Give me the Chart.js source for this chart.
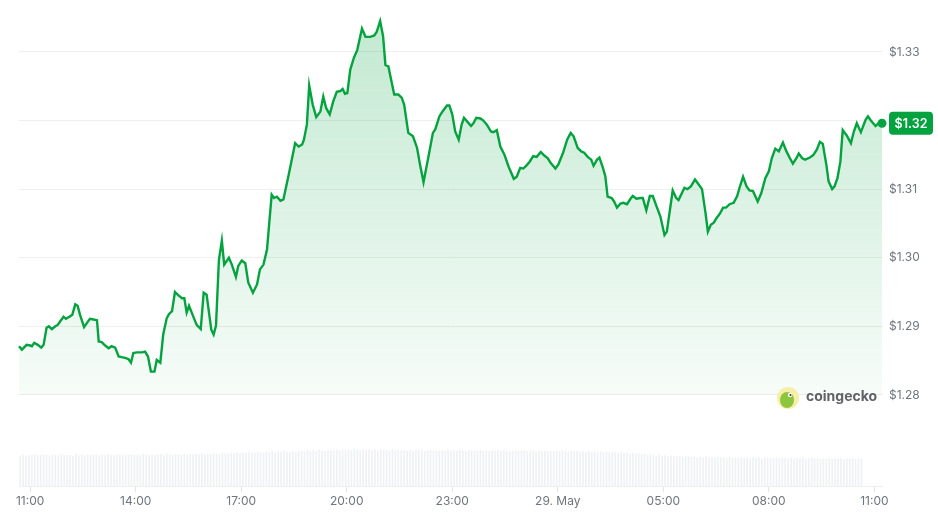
<!DOCTYPE html>
<html>
<head>
<meta charset="utf-8">
<script src="https://cdn.jsdelivr.net/npm/chart.js@4.4.1/dist/chart.umd.min.js"></script>
<style>
  html, body { margin: 0; padding: 0; background: #fff; }
  #wrap { width: 938px; height: 513px; position: relative; }
</style>
</head>
<body>
<div id="wrap"><canvas id="priceChart"></canvas></div>
<script>
// minutes after 28 May 11:00
const priceTimes = [-19,-14,-6,0,3,7,13,19,23,28,32,37,43,47,51,57,61,67,72,77,81,85,92,97,102,108,114,117,122,128,134,139,145,151,156,162,168,172,176,182,191,196,201,206,212,216,222,227,233,237,242,247,253,259,263,267,271,277,284,291,296,301,309,313,317,322,327,331,339,344,351,355,361,367,372,380,387,392,398,404,412,416,421,427,432,441,452,458,464,467,472,476,482,488,495,500,505,511,517,523,529,533,537,541,546,552,558,566,572,580,587,591,597,602,606,611,621,628,634,638,645,653,660,665,671,680,687,691,698,704,711,715,720,725,731,736,740,746,752,756,761,768,773,779,786,790,796,802,809,816,825,830,836,841,846,852,858,864,871,877,883,888,896,901,909,916,922,927,934,940,945,951,957,961,967,971,977,981,985,992,996,1001,1007,1012,1018,1024,1028,1034,1041,1045,1051,1057,1062,1068,1075,1082,1086,1096,1102,1106,1116,1121,1127,1134,1140,1146,1152,1156,1161,1166,1171,1177,1182,1187,1193,1200,1206,1210,1216,1222,1227,1233,1241,1247,1254,1260,1265,1271,1277,1284,1290,1296,1301,1307,1311,1317,1322,1330,1336,1342,1347,1352,1358,1362,1368,1372,1377,1382,1386,1393,1400,1405,1410,1417,1425,1429,1434,1442,1447,1453];

const prices = [1.2871,1.2866,1.2873,1.2872,1.2871,1.2876,1.2873,1.2869,1.2873,1.2898,1.2900,1.2896,1.2900,1.2902,1.2907,1.2914,1.2911,1.2914,1.2917,1.2932,1.2930,1.2917,1.2899,1.2905,1.2911,1.2910,1.2909,1.2878,1.2877,1.2872,1.2868,1.2871,1.2869,1.2856,1.2855,1.2854,1.2852,1.2847,1.2861,1.2862,1.2862,1.2863,1.2856,1.2834,1.2834,1.2851,1.2847,1.2888,1.2912,1.2918,1.2922,1.2950,1.2945,1.2941,1.2941,1.2920,1.2930,1.2917,1.2902,1.2896,1.2949,1.2946,1.2895,1.2888,1.2901,1.2997,1.3025,1.2990,1.3000,1.2990,1.2972,1.2988,1.2996,1.2992,1.2964,1.2949,1.2961,1.2983,1.2990,1.3012,1.3092,1.3087,1.3089,1.3083,1.3085,1.3121,1.3167,1.3162,1.3165,1.3172,1.3194,1.3251,1.3223,1.3205,1.3213,1.3235,1.3218,1.3209,1.3228,1.3242,1.3243,1.3246,1.3239,1.3240,1.3274,1.3291,1.3303,1.3334,1.3322,1.3322,1.3324,1.3329,1.3345,1.3323,1.3281,1.3279,1.3238,1.3238,1.3233,1.3223,1.3182,1.3177,1.3160,1.3136,1.3110,1.3150,1.3182,1.3187,1.3206,1.3214,1.3222,1.3222,1.3209,1.3184,1.3172,1.3194,1.3204,1.3198,1.3192,1.3196,1.3204,1.3203,1.3200,1.3194,1.3184,1.3183,1.3186,1.3162,1.3150,1.3133,1.3115,1.3118,1.3131,1.3130,1.3134,1.3140,1.3148,1.3147,1.3154,1.3149,1.3145,1.3138,1.3130,1.3136,1.3153,1.3172,1.3182,1.3177,1.3160,1.3155,1.3153,1.3147,1.3143,1.3134,1.3143,1.3146,1.3131,1.3119,1.3089,1.3087,1.3082,1.3073,1.3079,1.3080,1.3078,1.3086,1.3090,1.3086,1.3087,1.3087,1.3069,1.3090,1.3090,1.3076,1.3060,1.3033,1.3038,1.3098,1.3087,1.3084,1.3102,1.3100,1.3104,1.3114,1.3107,1.3100,1.3065,1.3038,1.3048,1.3051,1.3058,1.3065,1.3073,1.3073,1.3078,1.3080,1.3090,1.3102,1.3118,1.3104,1.3098,1.3097,1.3082,1.3094,1.3116,1.3126,1.3145,1.3159,1.3155,1.3168,1.3155,1.3145,1.3137,1.3145,1.3152,1.3145,1.3143,1.3146,1.3150,1.3158,1.3169,1.3166,1.3136,1.3111,1.3100,1.3104,1.3116,1.3140,1.3186,1.3178,1.3167,1.3184,1.3196,1.3183,1.3201,1.3206,1.3200,1.3192,1.3196,1.3196];

// volume bars every 5 minutes, starting 10:43
const volStart = -17;
const volStep = 5;
const volumes = [
  1.28,1.31,1.27,1.30,1.29,1.32,1.28,1.30,1.33,1.29,1.27,1.31,
  1.30,1.28,1.32,1.29,1.31,1.30,1.27,1.33,1.29,1.30,1.28,1.31,
  1.29,1.32,1.30,1.28,1.31,1.29,1.34,1.30,1.28,1.31,1.30,1.29,
  1.31,1.30,1.33,1.29,1.32,1.30,1.35,1.31,1.29,1.33,1.30,1.32,
  1.33,1.31,1.36,1.32,1.30,1.34,1.33,1.31,1.35,1.32,1.34,1.33,
  1.35,1.33,1.38,1.34,1.36,1.33,1.37,1.35,1.34,1.39,1.36,1.35,
  1.40,1.37,1.42,1.38,1.41,1.39,1.44,1.40,1.38,1.43,1.41,1.39,
  1.45,1.42,1.47,1.43,1.46,1.44,1.48,1.45,1.43,1.47,1.44,1.46,
  1.48,1.46,1.52,1.47,1.50,1.48,1.53,1.49,1.47,1.51,1.49,1.50,
  1.52,1.49,1.55,1.50,1.53,1.51,1.56,1.52,1.50,1.54,1.51,1.53,
  1.50,1.53,1.49,1.55,1.51,1.52,1.48,1.54,1.50,1.52,1.49,1.51,
  1.49,1.52,1.48,1.51,1.50,1.53,1.47,1.50,1.52,1.48,1.51,1.49,
  1.50,1.47,1.52,1.49,1.51,1.48,1.53,1.50,1.47,1.51,1.49,1.50,
  1.49,1.52,1.48,1.50,1.47,1.51,1.49,1.52,1.48,1.50,1.46,1.49,
  1.48,1.50,1.46,1.49,1.51,1.47,1.50,1.48,1.45,1.49,1.47,1.48,
  1.47,1.49,1.45,1.48,1.46,1.50,1.47,1.44,1.48,1.46,1.47,1.45,
  1.46,1.43,1.47,1.44,1.46,1.42,1.45,1.43,1.46,1.41,1.44,1.42,
  1.40,1.43,1.38,1.41,1.36,1.39,1.35,1.37,1.33,1.36,1.31,1.34,
  1.30,1.27,1.31,1.26,1.29,1.25,1.28,1.24,1.27,1.25,1.23,1.26,
  1.24,1.22,1.25,1.21,1.23,1.20,1.24,1.21,1.22,1.19,1.23,1.20,
  1.21,1.18,1.22,1.19,1.20,1.17,1.21,1.18,1.19,1.16,1.20,1.18,
  1.19,1.16,1.20,1.17,1.18,1.15,1.19,1.16,1.17,1.18,1.15,1.17,
  1.16,1.18,1.15,1.17,1.14,1.16,1.18,1.15,1.17,1.14,1.16,1.15,
  1.17,1.14,1.16,1.15,1.18,1.14,1.16,1.15,1.17,1.14,1.16,1.15
];

const priceTicks = [1.28, 1.29, 1.30, 1.31, 1.32, 1.33];
const timeTicks = [0, 180, 360, 540, 720, 900, 1080, 1260, 1440];
const timeLabels = ['11:00', '14:00', '17:00', '20:00', '23:00', '29. May', '05:00', '08:00', '11:00'];

const GREEN = '#04a33f';
const FONT = 'Inter, "Noto Sans", sans-serif';

let pricePoints = priceTimes.map((t, i) => ({ x: t, y: prices[i] }));
let volumePoints = volumes.map((v, i) => ({ x: volStart + i * volStep, y: v }));
let lastIndex = pricePoints.length - 1;

function fillGradient(context) {
    let chart = context.chart;
    let area = chart.chartArea;
    if (!area) return 'rgba(4,163,63,0.15)';
    let yScale = chart.scales.y;
    let top = yScale.getPixelForValue(Math.max(...prices));
    let bottom = yScale.getPixelForValue(1.28);
    let g = chart.ctx.createLinearGradient(0, top, 0, bottom);
    g.addColorStop(0, 'rgba(4,163,63,0.24)');
    g.addColorStop(1, 'rgba(4,163,63,0.03)');
    return g;
}

const lastPriceBadge = {
    id: 'lastPriceBadge',
    afterDraw(chart) {
        let ctx = chart.ctx;
        let y = chart.scales.y.getPixelForValue(prices[lastIndex]);
        let x = 889, w = 44, h = 23;
        ctx.save();
        ctx.fillStyle = GREEN;
        ctx.beginPath();
        ctx.roundRect(x, y - h / 2, w, h, 4);
        ctx.fill();
        ctx.fillStyle = '#fff';
        ctx.font = '600 12.5px ' + FONT;
        ctx.textAlign = 'center';
        ctx.textBaseline = 'middle';
        ctx.fillText('$' + prices[lastIndex].toFixed(2), x + w / 2, y + 0.5);
        ctx.restore();
    }
};

const geckoMark = {
    id: 'geckoMark',
    afterDraw(chart) {
        let ctx = chart.ctx;
        ctx.save();
        ctx.fillStyle = '#f7efa6';
        ctx.beginPath();
        ctx.arc(788, 398, 11, 0, Math.PI * 2);
        ctx.fill();
        ctx.fillStyle = '#8cc63f';
        ctx.beginPath();
        ctx.ellipse(787, 400, 7, 8, 0, 0, Math.PI * 2);
        ctx.fill();
        ctx.fillStyle = '#fff';
        ctx.beginPath();
        ctx.arc(790, 395, 2.2, 0, Math.PI * 2);
        ctx.fill();
        ctx.fillStyle = '#333';
        ctx.beginPath();
        ctx.arc(790.5, 395, 1, 0, Math.PI * 2);
        ctx.fill();
        ctx.fillStyle = '#5f6368';
        ctx.font = 'bold 14px ' + FONT;
        ctx.textBaseline = 'middle';
        ctx.fillText('coingecko', 806, 397);
        ctx.restore();
    }
};

let canvas = document.getElementById('priceChart').getContext('2d');
let priceChart = new Chart(canvas, {
    data: {
        datasets: [{
            type: 'line',
            data: pricePoints,
            borderColor: GREEN,
            borderWidth: 2.4,
            backgroundColor: fillGradient,
            fill: { value: 1.28 },
            tension: 0,
            clip: false,
            pointRadius: ctx => ctx.dataIndex === lastIndex ? 4.5 : 0,
            pointBackgroundColor: GREEN,
            pointBorderWidth: 0,
            yAxisID: 'y',
            order: 1
        }, {
            type: 'bar',
            data: volumePoints,
            backgroundColor: '#eff1f3',
            barThickness: 1,
            yAxisID: 'vol',
            order: 2
        }]
    },
    options: {
        responsive: true,
        maintainAspectRatio: false,
        animation: false,
        layout: { padding: { left: 19, top: 2, right: 0, bottom: 0 } },
        plugins: { legend: { display: false }, tooltip: { enabled: false } },
        scales: {
            x: {
                type: 'linear',
                offset: false,
                min: -19,
                max: 1453,
                afterBuildTicks: scale => { scale.ticks = timeTicks.map(v => ({ value: v })); },
                afterFit: scale => { scale.height = 27; },
                ticks: {
                    autoSkip: false,
                    maxRotation: 0,
                    padding: 2,
                    color: '#6f757c',
                    font: { family: FONT, size: 12 },
                    callback: value => timeLabels[timeTicks.indexOf(value)]
                },
                grid: { offset: false, drawOnChartArea: false, drawTicks: true, tickLength: 6, color: '#e3e3e3' },
                border: { display: true, color: '#efefef' }
            },
            y: {
                position: 'right',
                min: 1.266723,
                max: 1.3355,
                afterBuildTicks: scale => { scale.ticks = priceTicks.map(v => ({ value: v })); },
                afterFit: scale => { scale.width = 56; },
                ticks: {
                    padding: 7,
                    color: '#6f757c',
                    font: { family: FONT, size: 12 },
                    callback: value => Math.abs(value - 1.32) < 1e-6 ? '' : '$' + value.toFixed(2)
                },
                grid: { drawTicks: false, color: '#efefef' },
                border: { display: false }
            },
            vol: {
                display: false,
                min: 0,
                max: 20
            }
        }
    },
    plugins: [lastPriceBadge, geckoMark]
});
</script>
</body>
</html>
